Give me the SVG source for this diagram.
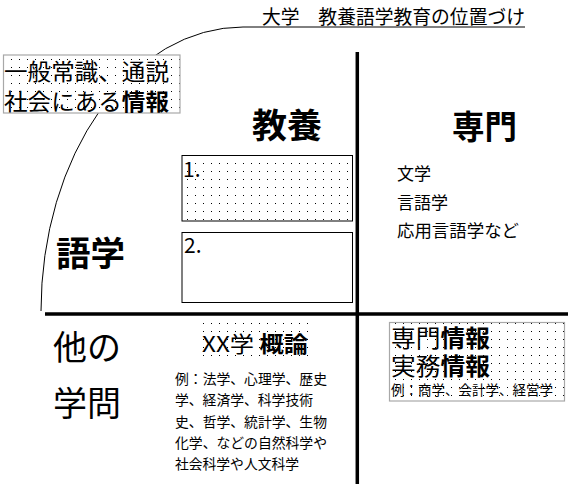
<svg xmlns="http://www.w3.org/2000/svg" width="571" height="486" viewBox="0 0 571 486">
<style>
text{font-family:"Noto Sans CJK JP","Noto Sans",sans-serif;fill:#000}
.b{font-weight:bold}
.axis{stroke:#000;stroke-width:3.5;fill:none}
.thin{stroke:#000;stroke-width:1;fill:none}
.gbox{stroke:#a8a8a8;stroke-width:1.2}
.kbox{stroke:#000;stroke-width:1}
</style>
<defs>
<pattern id="dots" x="0" y="0" width="8" height="8" patternUnits="userSpaceOnUse">
<rect width="8" height="8" fill="#fff"/>
<rect x="3" y="3" width="1" height="1" fill="#000"/>
</pattern>
</defs>
<rect width="571" height="486" fill="#fff"/>
<g id="connectors">
<path class="thin" d="M41,311 A202,284 0 0 1 243,27 L525,27"/>
</g>
<g id="axes">
<line class="axis" x1="357.3" y1="52" x2="357.3" y2="484"/>
<line class="axis" x1="45" y1="314" x2="568" y2="314"/>
</g>
<g id="title">
<text x="262" y="24" font-size="19" textLength="263" lengthAdjust="spacingAndGlyphs">大学　教養語学教育の位置づけ</text>
</g>
<g id="common-info">
<rect class="gbox" x="3.5" y="55" width="176.5" height="58" fill="url(#dots)"/>
<text font-size="23"><tspan x="4" y="80" textLength="165" lengthAdjust="spacingAndGlyphs">一般常識、通説</tspan><tspan x="4" y="110" textLength="165" lengthAdjust="spacingAndGlyphs">社会にある<tspan class="b">情報</tspan></tspan></text>
</g>
<g id="kyouyou">
<text class="b" x="252" y="138" font-size="34" textLength="70" lengthAdjust="spacingAndGlyphs">教養</text>
</g>
<g id="senmon">
<text class="b" x="452" y="139" font-size="33" textLength="65" lengthAdjust="spacingAndGlyphs">専門</text>
</g>
<g id="box1">
<rect class="kbox" x="182" y="155.5" width="170.5" height="65.5" fill="url(#dots)"/>
<text x="183" y="176.5" font-size="21">1.</text>
</g>
<g id="box2">
<rect class="kbox" x="182" y="232.5" width="170.5" height="70" fill="#fff"/>
<text x="184" y="253" font-size="21">2.</text>
</g>
<g id="senmon-list">
<text x="397" y="180" font-size="17">文学</text>
<text x="397" y="208.5" font-size="17">言語学</text>
<text x="397" y="236.5" font-size="17" textLength="122" lengthAdjust="spacingAndGlyphs">応用言語学など</text>
</g>
<g id="gogaku">
<text class="b" x="56" y="266" font-size="34" textLength="69" lengthAdjust="spacingAndGlyphs">語学</text>
</g>
<g id="other">
<text x="53" y="360" font-size="34" textLength="68" lengthAdjust="spacingAndGlyphs">他の</text>
<text x="53" y="416" font-size="34" textLength="68" lengthAdjust="spacingAndGlyphs">学問</text>
</g>
<g id="gairon">
<rect x="198" y="323" width="117" height="38" fill="url(#dots)"/>
<text x="202" y="351.5" font-size="22" textLength="106" lengthAdjust="spacingAndGlyphs">XX学 <tspan class="b">概論</tspan></text>
</g>
<g id="gairon-examples">
<text x="175" y="384" font-size="14" textLength="152" lengthAdjust="spacingAndGlyphs">例：法学、心理学、歴史</text>
<text x="175" y="405.3" font-size="14" textLength="138" lengthAdjust="spacingAndGlyphs">学、経済学、科学技術</text>
<text x="175" y="426.5" font-size="14" textLength="152" lengthAdjust="spacingAndGlyphs">史、哲学、統計学、生物</text>
<text x="175" y="447.8" font-size="14" textLength="152" lengthAdjust="spacingAndGlyphs">化学、などの自然科学や</text>
<text x="175" y="469" font-size="14" textLength="124" lengthAdjust="spacingAndGlyphs">社会科学や人文科学</text>
</g>
<g id="practical-info">
<rect class="gbox" x="389.5" y="322.5" width="175" height="78.5" fill="url(#dots)"/>
<text font-size="24"><tspan x="391" y="346.5" textLength="99" lengthAdjust="spacingAndGlyphs">専門<tspan class="b">情報</tspan></tspan><tspan x="391" y="375" textLength="99" lengthAdjust="spacingAndGlyphs">実務<tspan class="b">情報</tspan></tspan><tspan x="391" y="394.5" font-size="13.5" textLength="162" lengthAdjust="spacingAndGlyphs">例：商学、会計学、経営学</tspan></text>
</g>
</svg>
